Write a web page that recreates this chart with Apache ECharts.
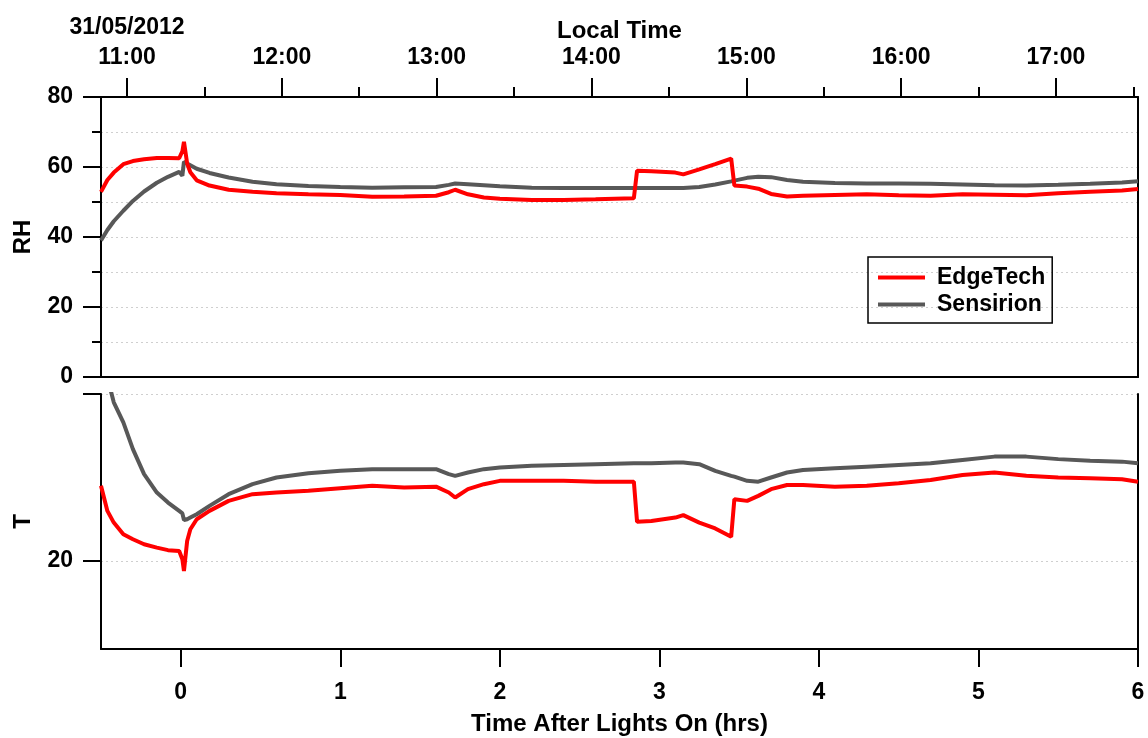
<!DOCTYPE html>
<html>
<head>
<meta charset="utf-8">
<script src="https://cdn.jsdelivr.net/npm/echarts@6/dist/echarts.min.js"></script>
<style>
  html, body { margin: 0; padding: 0; background: #fff; }
  #chart { width: 1148px; height: 738px; }
</style>
</head>
<body>
<div id="chart"></div>
<script>
// hours after lights on
const hours = [-0.5, -0.46, -0.42, -0.36, -0.3, -0.23, -0.15, -0.08, -0.01, 0.01, 0.02, 0.04, 0.06, 0.1, 0.18, 0.3, 0.45, 0.6, 0.8, 1.0,
  1.2, 1.4, 1.6, 1.68, 1.72, 1.8, 1.9, 2.0, 2.2, 2.4, 2.6, 2.84, 2.86, 2.95, 3.1, 3.15, 3.25, 3.35, 3.45, 3.47,
  3.55, 3.62, 3.7, 3.8, 3.9, 4.1, 4.3, 4.5, 4.7, 4.9, 5.1, 5.3, 5.5, 5.7, 5.9, 6.0];

// relative humidity
const edgeRH = [52.9, 56.3, 58.4, 60.8, 61.7, 62.2, 62.6, 62.6, 62.5, 64.5, 67.2, 61.0, 58.5, 56.2, 54.7, 53.5, 52.9, 52.5, 52.2, 52.0,
  51.5, 51.6, 51.8, 52.8, 53.5, 52.2, 51.3, 50.9, 50.6, 50.6, 50.8, 51.1, 58.9, 58.8, 58.4, 57.9, 59.3, 60.8, 62.4, 54.7,
  54.4, 53.8, 52.3, 51.6, 51.8, 52.0, 52.2, 51.9, 51.8, 52.2, 52.1, 51.9, 52.5, 52.9, 53.3, 53.7];
const sensRH = [39.0, 42.0, 44.5, 47.5, 50.3, 53.0, 55.5, 57.2, 58.6, 57.5, 61.5, 61.0, 60.5, 59.5, 58.3, 57.0, 55.8, 55.1, 54.6, 54.3,
  54.1, 54.2, 54.3, 54.9, 55.3, 55.1, 54.8, 54.5, 54.1, 54.0, 54.0, 54.0, 54.0, 54.0, 54.0, 54.0, 54.3, 55.0, 55.9, 56.1,
  56.9, 57.2, 57.1, 56.3, 55.8, 55.4, 55.3, 55.3, 55.2, 55.0, 54.8, 54.7, 54.9, 55.2, 55.6, 55.9];

// temperature
const edgeT = [24.5, 23.0, 22.3, 21.6, 21.3, 21.0, 20.8, 20.65, 20.6, 20.1, 19.4, 21.2, 21.9, 22.5, 23.0, 23.6, 24.0, 24.1, 24.2, 24.35,
  24.5, 24.4, 24.45, 24.1, 23.8, 24.3, 24.6, 24.8, 24.8, 24.8, 24.75, 24.75, 22.35, 22.4, 22.6, 22.75, 22.3, 21.95, 21.45, 23.7,
  23.6, 23.9, 24.3, 24.55, 24.55, 24.45, 24.5, 24.65, 24.85, 25.15, 25.3, 25.1, 25.0, 24.95, 24.9, 24.75];
const sensT = [32.0, 31.0, 29.5, 28.3, 26.7, 25.2, 24.1, 23.5, 23.0, 22.85, 22.45, 22.5, 22.6, 22.8, 23.3, 24.0, 24.6, 25.0, 25.25, 25.4,
  25.5, 25.5, 25.5, 25.2, 25.1, 25.3, 25.5, 25.6, 25.7, 25.75, 25.8, 25.85, 25.85, 25.85, 25.9, 25.9, 25.8, 25.4, 25.1, 25.05,
  24.8, 24.75, 25.0, 25.3, 25.45, 25.55, 25.65, 25.75, 25.85, 26.05, 26.25, 26.25, 26.1, 26.0, 25.95, 25.85];

// axis ticks
const hourTicks = [0, 1, 2, 3, 4, 5, 6];
const localTicks = [11, 12, 13, 14, 15, 16, 17];
const localHalfTicks = [11.5, 12.5, 13.5, 14.5, 15.5, 16.5, 17.5];
const tTicks = [20, 30];
const tLabels = [20];
const dateLabel = '31/05/2012';

const FONT = '"Liberation Sans", Arial, sans-serif';
const black = '#000';
const lineAxis = { show: true, onZero: false, lineStyle: { color: black, width: 2 } };
const labelStyle = { color: black, fontFamily: FONT, fontWeight: 'bold', fontSize: 23 };
const nameStyle = { color: black, fontFamily: FONT, fontWeight: 'bold', fontSize: 24 };
const dotted = { show: true, lineStyle: { color: '#cfcfcf', type: [2, 3], width: 1 } };

const pairs = (ys) => hours.map((h, i) => [h, ys[i]]);

const chart = echarts.init(document.getElementById('chart'));
chart.setOption({
  animation: false,
  backgroundColor: '#fff',
  grid: [
    { left: 101, top: 97, width: 1037, height: 280, containLabel: false, outerBoundsMode: 'none' },
    { left: 101, top: 394, width: 1037, height: 255, containLabel: false, outerBoundsMode: 'none' }
  ],
  legend: {
    left: 868, top: 257,
    orient: 'vertical',
    borderColor: black, borderWidth: 1.5,
    padding: [9, 7, 7, 10],
    itemGap: 4,
    itemWidth: 47, itemHeight: 4,
    icon: 'rect',
    textStyle: { color: black, fontFamily: FONT, fontWeight: 'bold', fontSize: 23, padding: [0, 0, 0, 7] },
    data: ['EdgeTech', 'Sensirion']
  },
  xAxis: [
    { // top panel bottom edge
      type: 'value', gridIndex: 0, position: 'bottom', min: -0.5, max: 6,
      axisLine: lineAxis, axisTick: { show: false }, axisLabel: { show: false }, splitLine: { show: false }
    },
    { // local time, whole hours
      type: 'value', gridIndex: 0, position: 'top', min: 10.832, max: 17.53,
      name: 'Local Time', nameLocation: 'middle', nameGap: 54, nameMoveOverlap: false, nameTextStyle: nameStyle,
      axisLine: lineAxis,
      axisTick: { show: true, inside: false, length: 19, customValues: localTicks, lineStyle: { color: black, width: 2 } },
      axisLabel: Object.assign({}, labelStyle, {
        customValues: localTicks, margin: 24, lineHeight: 30,
        formatter: v => (v === 11 ? '{d|' + dateLabel + '}\n' : '') + v + ':00',
        rich: { d: { fontFamily: FONT, fontWeight: 'bold', fontSize: 23, color: black, lineHeight: 30 } }
      }),
      splitLine: { show: false }
    },
    { // local time, half hours
      type: 'value', gridIndex: 0, position: 'top', min: 10.832, max: 17.53,
      axisLine: { show: false, onZero: false },
      axisTick: { show: true, length: 10, customValues: localHalfTicks, lineStyle: { color: black, width: 2 } },
      axisLabel: { show: false }, splitLine: { show: false }
    },
    { // hours after lights on
      type: 'value', gridIndex: 1, position: 'bottom', min: -0.5, max: 6,
      name: 'Time After Lights On (hrs)', nameLocation: 'middle', nameGap: 63, nameMoveOverlap: false, nameTextStyle: nameStyle,
      axisLine: lineAxis,
      axisTick: { show: true, length: 18, customValues: hourTicks, lineStyle: { color: black, width: 2 } },
      axisLabel: Object.assign({}, labelStyle, { customValues: hourTicks, margin: 32 }),
      splitLine: { show: false }
    }
  ],
  yAxis: [
    {
      type: 'value', gridIndex: 0, position: 'left', min: 0, max: 80, interval: 20,
      name: 'RH', nameLocation: 'middle', nameGap: 66, nameRotate: 90, nameMoveOverlap: false, nameTextStyle: nameStyle,
      axisLine: lineAxis,
      axisTick: { show: true, length: 18, lineStyle: { color: black, width: 2 } },
      minorTick: { show: true, splitNumber: 2, length: 9, lineStyle: { color: black, width: 2 } },
      axisLabel: Object.assign({}, labelStyle, { margin: 28 }),
      splitLine: dotted,
      minorSplitLine: dotted
    },
    {
      type: 'value', gridIndex: 0, position: 'right', min: 0, max: 80,
      axisLine: lineAxis, axisTick: { show: false }, axisLabel: { show: false }, splitLine: { show: false }
    },
    {
      type: 'value', gridIndex: 1, position: 'left', min: 14.73, max: 30,
      name: 'T', nameLocation: 'middle', nameGap: 66, nameRotate: 90, nameMoveOverlap: false, nameTextStyle: nameStyle,
      axisLine: lineAxis,
      axisTick: { show: true, length: 18, customValues: tTicks, lineStyle: { color: black, width: 2 } },
      axisLabel: Object.assign({}, labelStyle, { margin: 28, customValues: tLabels }),
      splitLine: dotted
    },
    {
      type: 'value', gridIndex: 1, position: 'right', min: 14.73, max: 30,
      axisLine: lineAxis, axisTick: { show: false }, axisLabel: { show: false }, splitLine: { show: false }
    }
  ],
  series: [
    { name: 'EdgeTech', type: 'line', xAxisIndex: 0, yAxisIndex: 0, data: pairs(edgeRH), symbol: 'none',
      lineStyle: { color: '#ff0000', width: 4 }, itemStyle: { color: '#ff0000' }, z: 3 },
    { name: 'Sensirion', type: 'line', xAxisIndex: 0, yAxisIndex: 0, data: pairs(sensRH), symbol: 'none',
      lineStyle: { color: '#585858', width: 4 }, itemStyle: { color: '#585858' }, z: 2 },
    { name: 'EdgeTech', type: 'line', xAxisIndex: 3, yAxisIndex: 2, data: pairs(edgeT), symbol: 'none',
      lineStyle: { color: '#ff0000', width: 4 }, itemStyle: { color: '#ff0000' }, z: 3 },
    { name: 'Sensirion', type: 'line', xAxisIndex: 3, yAxisIndex: 2, data: pairs(sensT), symbol: 'none',
      lineStyle: { color: '#585858', width: 4 }, itemStyle: { color: '#585858' }, z: 2 }
  ]
});
</script>
</body>
</html>
